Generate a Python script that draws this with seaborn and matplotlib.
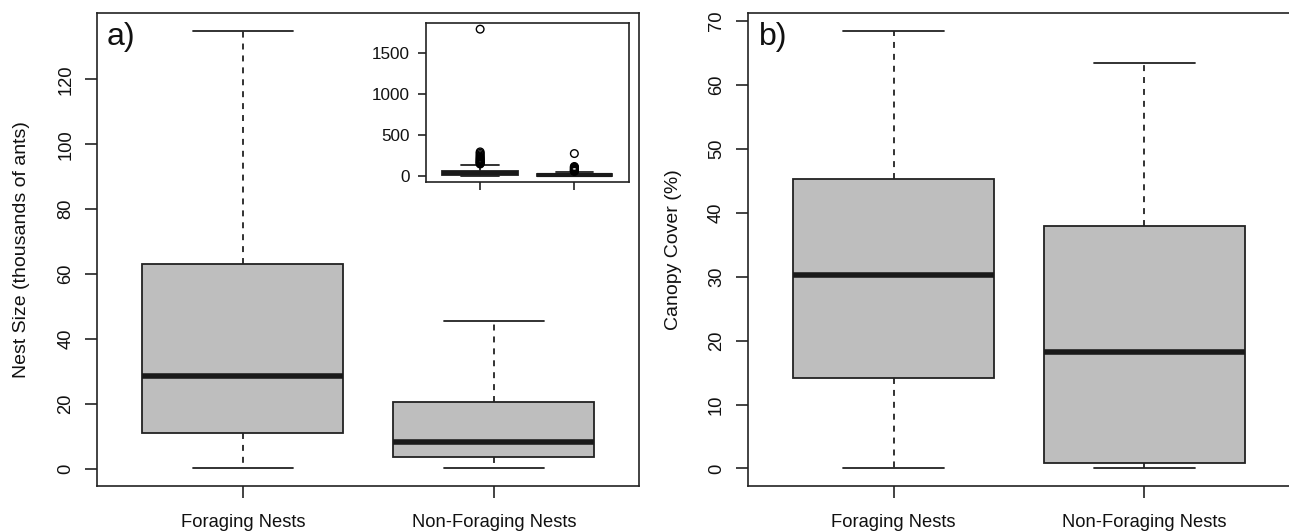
import numpy as np
import pandas as pd
import matplotlib
matplotlib.use("Agg")
import matplotlib.pyplot as plt
import seaborn as sns

# ---------------- data ----------------
groups = ["Foraging Nests", "Non-Foraging Nests"]
# five-number summaries: lower whisker, Q1, median, Q3, upper whisker
nest_foraging = [0.1, 11.1, 28.6, 63.0, 135.0]
nest_nonforaging = [0.1, 3.6, 8.2, 20.6, 45.7]
canopy_foraging = [0.0, 14.2, 30.3, 45.3, 68.5]
canopy_nonforaging = [0.0, 0.8, 18.2, 37.9, 63.5]
# outliers shown only in the inset (thousands of ants)
nest_outliers_foraging = [145, 152, 160, 168, 176, 185, 195, 205, 215, 228, 242, 258, 275, 292, 1790]
nest_outliers_nonforaging = [55, 60, 66, 72, 80, 88, 97, 106, 114, 272]
nest_ticks = [0, 20, 40, 60, 80, 100, 120]
canopy_ticks = [0, 10, 20, 30, 40, 50, 60, 70]
inset_ticks = [0, 500, 1000, 1500]

# ---------------- style ----------------
sns.set_style("ticks")
plt.rcParams["font.family"] = ["Liberation Sans", "DejaVu Sans"]
TXT = "#111111"
plt.rcParams.update({"text.color": TXT, "axes.labelcolor": TXT,
                     "xtick.labelcolor": TXT, "ytick.labelcolor": TXT})
FILL = "#BEBEBE"
EDGE = "#222222"
MED = "#1a1a1a"
W, H = 1289, 532

nest_df = pd.DataFrame({"group": [groups[0]] * 5 + [groups[1]] * 5,
                        "value": nest_foraging + nest_nonforaging})
canopy_df = pd.DataFrame({"group": [groups[0]] * 5 + [groups[1]] * 5,
                          "value": canopy_foraging + canopy_nonforaging})
out_df = pd.DataFrame({"group": [groups[0]] * len(nest_outliers_foraging)
                       + [groups[1]] * len(nest_outliers_nonforaging),
                       "value": nest_outliers_foraging + nest_outliers_nonforaging})


def r_limits(values):
    lo, hi = min(values), max(values)
    r = hi - lo
    return lo - 0.04 * r, hi + 0.04 * r


def draw_box(ax, df, lw=1.3, mlw=4.0):
    sns.boxplot(data=df, x="group", y="value", order=groups, ax=ax,
                color=FILL, saturation=1, width=0.8, whis=(0, 100),
                showfliers=False, linecolor=EDGE, linewidth=lw,
                medianprops=dict(linewidth=mlw, color=MED, solid_capstyle="butt"),
                whiskerprops=dict(linestyle=(0, (3.3, 3.3))),
                capprops=dict(linestyle="-"))
    ax.set_xlim(-0.58, 1.58)
    ax.set_xlabel("")
    for s in ax.spines.values():
        s.set_visible(True)
        s.set_linewidth(1.2)
        s.set_color(EDGE)


def px_axes(fig, left, top, right, bottom):
    return fig.add_axes([left / W, (H - bottom) / H, (right - left) / W, (bottom - top) / H])


fig = plt.figure(figsize=(W / 100, H / 100), dpi=100)

# ---------------- panel a ----------------
axa = px_axes(fig, 97.3, 13.3, 639.3, 486)
draw_box(axa, nest_df)
axa.set_ylim(*r_limits(nest_foraging + nest_nonforaging))
axa.set_yticks(nest_ticks)
axa.set_ylabel("Nest Size (thousands of ants)", fontsize=14)
axa.yaxis.set_label_coords(-0.125, 0.5)
axa.text(0.018, 0.982, "a)", transform=axa.transAxes, fontsize=23,
         ha="left", va="top")

# ---------------- panel b ----------------
axb = px_axes(fig, 748, 13.3, 1290, 486)
draw_box(axb, canopy_df)
axb.set_ylim(*r_limits(canopy_foraging + canopy_nonforaging))
axb.set_yticks(canopy_ticks)
axb.set_ylabel("Canopy Cover (%)", fontsize=14)
axb.yaxis.set_label_coords(-0.122, 0.5)
axb.text(0.02, 0.982, "b)", transform=axb.transAxes, fontsize=23,
         ha="left", va="top")

for ax in (axa, axb):
    ax.tick_params(axis="both", direction="out", length=8.4, width=1.2,
                   color=EDGE, labelsize=13.2)
    ax.tick_params(axis="y", labelrotation=90, pad=8.2)
    ax.tick_params(axis="x", pad=12)
    for lab in ax.get_yticklabels():
        lab.set_va("center")

# ---------------- inset ----------------
axi = px_axes(fig, 425.5, 23.3, 629, 181.7)
axi.set_facecolor("white")
draw_box(axi, nest_df, lw=1.3, mlw=3.0)
sns.stripplot(data=out_df, x="group", y="value", order=groups, ax=axi,
              jitter=False, size=5.5, color="black", edgecolor="black",
              linewidth=1.0)
for coll in axi.collections:
    coll.set_facecolor("none")
    coll.set_edgecolor("black")
axi.set_xlim(-0.58, 1.58)
axi.set_ylim(*r_limits(nest_foraging + nest_nonforaging
                       + nest_outliers_foraging + nest_outliers_nonforaging))
axi.set_yticks(inset_ticks)
axi.set_xlabel("")
axi.set_ylabel("")
axi.set_xticklabels([])
axi.tick_params(axis="both", direction="out", length=6, width=1.2,
                color=EDGE, labelsize=12.3, pad=5)

fig.savefig("out.png", dpi=100)
